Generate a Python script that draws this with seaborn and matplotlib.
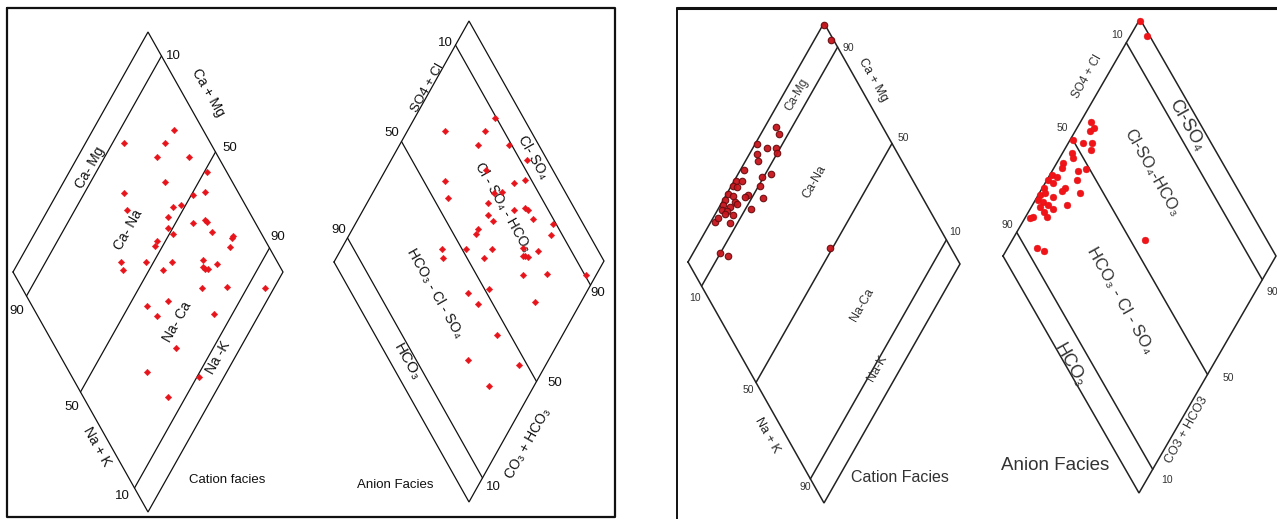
import numpy as np
import pandas as pd
import matplotlib
matplotlib.use("Agg")
import matplotlib.pyplot as plt
from matplotlib.transforms import Affine2D
import seaborn as sns

# ---------------- data (diamond coordinates, percent along the two edge axes) -------------
# a: along the upper-left edge (left vertex -> top vertex), b: along the lower-left edge (left -> bottom)
lc_a = [89.3, 67.9, 83.0, 77.1, 89.0, 92.5, 74.9, 57.5, 87.6, 82.8, 76.2, 72.7, 55.2, 69.0, 77.1, 81.8,
        82.2, 66.6, 67.3, 82.2, 88.9, 88.0, 60.0, 58.1, 85.5, 42.1, 51.3, 60.8, 72.8, 71.6, 72.9, 71.7,
        77.3, 41.1, 56.1, 66.5, 76.3, 89.9, 42.7, 51.5, 44.1, 65.8, 44.5, 28.9, 46.9, 31.5]
lc_b = [30.2, 14.3, 29.4, 29.3, 41.2, 51.0, 37.5, 24.7, 54.4, 50.7, 48.3, 45.5, 29.4, 46.0, 56.5, 60.2,
        61.2, 48.4, 51.5, 65.4, 73.9, 74.0, 46.9, 47.1, 75.2, 37.8, 47.2, 56.8, 67.8, 69.4, 71.8, 70.6,
        74.0, 40.2, 55.3, 73.3, 82.4, 96.7, 56.8, 63.6, 62.3, 83.3, 76.3, 70.6, 90.8, 83.5]

la_a = [89.5, 68.2, 83.0, 77.6, 89.0, 92.6, 75.3, 57.8, 87.6, 83.0, 76.5, 73.5, 55.3, 69.2, 77.3, 81.9,
        82.6, 66.7, 67.4, 82.3, 88.9, 85.7, 60.2, 58.4, 77.8, 42.5, 51.5, 60.9, 73.0, 71.8, 72.9, 71.1,
        41.0, 56.3, 67.0, 76.3, 90.4, 43.1, 51.8, 44.7, 66.0, 44.9, 29.2, 47.0, 31.7]
la_b = [29.8, 14.0, 28.8, 29.3, 40.8, 50.5, 37.3, 24.4, 53.8, 50.3, 47.7, 45.2, 28.9, 45.1, 56.0, 59.6,
        61.3, 47.6, 50.6, 64.9, 73.5, 74.9, 46.7, 46.8, 73.5, 37.3, 46.3, 55.9, 67.3, 69.7, 71.0, 69.1,
        39.5, 54.8, 72.8, 81.7, 96.3, 56.4, 63.2, 62.2, 82.9, 75.7, 70.3, 90.3, 83.3]

rc_a = [60.7, 60.3, 50.0, 53.0, 56.3, 55.6, 48.1, 47.0, 39.7, 49.1, 45.1, 34.6, 36.9, 32.4, 33.6, 42.3,
        36.2, 29.1, 30.3, 34.5, 26.5, 29.8, 40.9, 24.7, 26.9, 30.1, 23.3, 25.0, 34.2, 23.6, 26.3, 18.3,
        23.6, 20.2, 13.6, 16.0, 99.5, 99.0, 55.3]
rc_b = [4.0, 6.6, 0.8, 5.1, 8.4, 9.8, 2.7, 4.5, 1.4, 12.0, 9.3, 0.5, 2.8, 0.5, 2.4, 10.6,
        7.9, 0.5, 2.8, 7.4, 0.7, 4.8, 14.2, 1.0, 4.0, 5.9, 1.7, 3.7, 12.1, 3.6, 6.7, 1.6,
        7.3, 1.9, 9.9, 13.5, 0.3, 6.0, 49.1]

ra_a = [60.5, 58.2, 60.3, 50.1, 53.1, 56.4, 54.6, 47.0, 46.3, 41.6, 40.2, 45.4, 48.8, 35.0, 36.4, 32.5,
        43.1, 33.7, 29.2, 37.1, 35.3, 41.5, 26.4, 28.7, 30.8, 24.6, 26.1, 27.2, 34.2, 23.9, 28.2, 24.3,
        24.4, 19.2, 17.9, 14.2, 16.1, 99.5, 99.0, 55.4]
ra_b = [4.0, 5.5, 6.3, 1.2, 5.5, 8.8, 9.9, 3.5, 5.0, 2.4, 3.0, 9.5, 12.0, 0.9, 3.1, 0.4,
        11.1, 2.9, 0.5, 8.4, 7.9, 14.9, 0.7, 2.1, 5.9, 1.0, 3.3, 5.7, 12.7, 3.2, 8.4, 5.7,
        7.9, 2.8, 1.9, 10.8, 14.0, 0.3, 6.0, 48.6]

# division lines of each facies diagram (percent)
facies_lines = [10, 50, 90]

# ---------------- layout (pixels of the 1277 x 519 canvas) --------------------------------
W, H = 1277, 519
geom = {  # left vertex, top vertex, bottom vertex
    "lc": ((13, 272), (148, 32), (148, 512)),
    "la": ((334, 262), (469, 21), (469, 502)),
    "rc": ((688, 262), (824, 23), (824, 503)),
    "ra": ((1003, 256), (1140, 19), (1139, 493)),
}

sns.set_style("white")
plt.rcParams["font.family"] = ["Liberation Sans", "DejaVu Sans"]

fig = plt.figure(figsize=(W / 100, H / 100), dpi=100)
ax = fig.add_axes([0, 0, 1, 1])
ax.set_xlim(0, W)
ax.set_ylim(H, 0)
ax.axis("off")


def diamond_transform(key):
    (lx, ly), (tx, ty), (bx, by) = geom[key]
    e1 = ((tx - lx) / 100.0, (ty - ly) / 100.0)
    e2 = ((bx - lx) / 100.0, (by - ly) / 100.0)
    return Affine2D().from_values(e1[0], e1[1], e2[0], e2[1], lx, ly) + ax.transData


def draw_diamond(key, kind, lw, color):
    tr = diamond_transform(key)
    ax.plot([0, 100, 100, 0, 0], [0, 0, 100, 100, 0], color=color, lw=lw, transform=tr,
            solid_joinstyle="miter")
    for v in facies_lines:
        if kind == "cation":
            ax.plot([0, 100], [v, v], color=color, lw=lw, transform=tr)
        else:
            ax.plot([v, v], [0, 100], color=color, lw=lw, transform=tr)
    return tr


tr_lc = draw_diamond("lc", "cation", 0.9, "#111111")
tr_la = draw_diamond("la", "anion", 0.9, "#111111")
tr_rc = draw_diamond("rc", "cation", 1.1, "#222222")
tr_ra = draw_diamond("ra", "anion", 1.1, "#222222")

# ---------------- points ----------------
left_kw = dict(color="#e8141b", marker="D", s=11, edgecolor="#e8141b", linewidth=0.3,
               legend=False, zorder=4)
rc_kw = dict(color="#c8141c", marker="o", s=22, edgecolor="#6a0b0e", linewidth=0.8,
             legend=False, zorder=4, alpha=0.95)
ra_kw = dict(color="#f01418", marker="o", s=24, edgecolor="#e01015", linewidth=0.3,
             legend=False, zorder=4)

sns.scatterplot(x=lc_a, y=lc_b, ax=ax, transform=tr_lc, **left_kw)
sns.scatterplot(x=la_a, y=la_b, ax=ax, transform=tr_la, **left_kw)
sns.scatterplot(x=rc_a, y=rc_b, ax=ax, transform=tr_rc, **rc_kw)
sns.scatterplot(x=ra_a, y=ra_b, ax=ax, transform=tr_ra, **ra_kw)

ax.set_xlim(0, W)
ax.set_ylim(H, 0)
ax.axis("off")

# ---------------- panel frames ----------------
ax.plot([7, 615, 615, 7, 7], [8, 8, 517, 517, 8], color="#111111", lw=1.6)
ax.plot([677, 677], [519, 8], color="#111111", lw=1.4)
ax.plot([677, 1277], [8, 8], color="#111111", lw=2.2)

# ---------------- labels ----------------
UP, DN = 60.6, -60.6
labels = [
    # left cation
    ("Ca + Mg", 208, 93, DN, 10, "#111111"),
    ("Ca- Mg", 90, 168, UP, 10, "#111111"),
    ("Ca- Na", 128, 230, UP, 10, "#111111"),
    ("Na- Ca", 177, 322, UP, 10, "#111111"),
    ("Na -K", 218, 358, UP, 10, "#111111"),
    ("Na + K", 97, 447, DN, 10, "#111111"),
    ("Cation facies", 227, 480, 0, 9.5, "#111111"),
    ("10", 173, 56, 0, 9.5, "#111111"), ("50", 230, 148, 0, 9.5, "#111111"),
    ("90", 278, 237, 0, 9.5, "#111111"), ("90", 17, 311, 0, 9.5, "#111111"),
    ("50", 72, 407, 0, 9.5, "#111111"), ("10", 122, 496, 0, 9.5, "#111111"),
    # left anion
    ("SO4 + Cl", 428, 88, UP, 9.5, "#111111"),
    ("Cl- SO₄", 533, 157, DN, 10, "#111111"),
    ("Cl - SO₄ - HCO₃", 503, 207, DN, 10, "#111111"),
    ("HCO₃ - Cl - SO₄", 435, 293, DN, 10, "#111111"),
    ("HCO₃", 407, 362, DN, 11, "#111111"),
    ("CO₃ + HCO₃", 528, 443, UP, 10, "#111111"),
    ("Anion Facies", 395, 485, 0, 9.5, "#111111"),
    ("10", 445, 43, 0, 9.5, "#111111"), ("50", 392, 133, 0, 9.5, "#111111"),
    ("90", 339, 230, 0, 9.5, "#111111"), ("90", 598, 293, 0, 9.5, "#111111"),
    ("50", 555, 383, 0, 9.5, "#111111"), ("10", 493, 487, 0, 9.5, "#111111"),
    # right cation
    ("Ca-Mg", 797, 95, UP, 8.5, "#333333"),
    ("Ca + Mg", 873, 80, DN, 9, "#222222"),
    ("Ca-Na", 815, 182, UP, 9, "#333333"),
    ("Na-Ca", 862, 305, UP, 9, "#333333"),
    ("Na-K", 877, 368, UP, 9, "#333333"),
    ("Na + K", 767, 435, DN, 9, "#222222"),
    ("Cation Facies", 900, 477, 0, 11.5, "#333333"),
    ("90", 848, 48, 0, 7.5, "#333333"), ("50", 903, 138, 0, 7.5, "#333333"),
    ("10", 955, 232, 0, 7.5, "#333333"), ("10", 695, 298, 0, 7.5, "#333333"),
    ("50", 748, 390, 0, 7.5, "#333333"), ("90", 805, 487, 0, 7.5, "#333333"),
    # right anion
    ("SO4 + Cl", 1087, 77, UP, 8.5, "#333333"),
    ("Cl-SO₄", 1187, 125, DN, 13, "#333333"),
    ("Cl-SO₄-HCO₃", 1152, 173, DN, 11.5, "#333333"),
    ("HCO₃ - Cl - SO₄", 1120, 300, DN, 12, "#333333"),
    ("HCO₃", 1070, 365, DN, 13, "#333333"),
    ("CO3 + HCO3", 1187, 430, UP, 9, "#333333"),
    ("Anion Facies", 1055, 465, 0, 13.5, "#333333"),
    ("10", 1117, 35, 0, 7.5, "#333333"), ("50", 1062, 128, 0, 7.5, "#333333"),
    ("90", 1007, 225, 0, 7.5, "#333333"), ("90", 1272, 292, 0, 7.5, "#333333"),
    ("50", 1228, 378, 0, 7.5, "#333333"), ("10", 1167, 480, 0, 7.5, "#333333"),
]
for text, x, y, rot, size, col in labels:
    ax.text(x, y, text, rotation=rot, rotation_mode="anchor", ha="center", va="center",
            fontsize=size, color=col)

fig.savefig("out.png", dpi=100, facecolor="white")
